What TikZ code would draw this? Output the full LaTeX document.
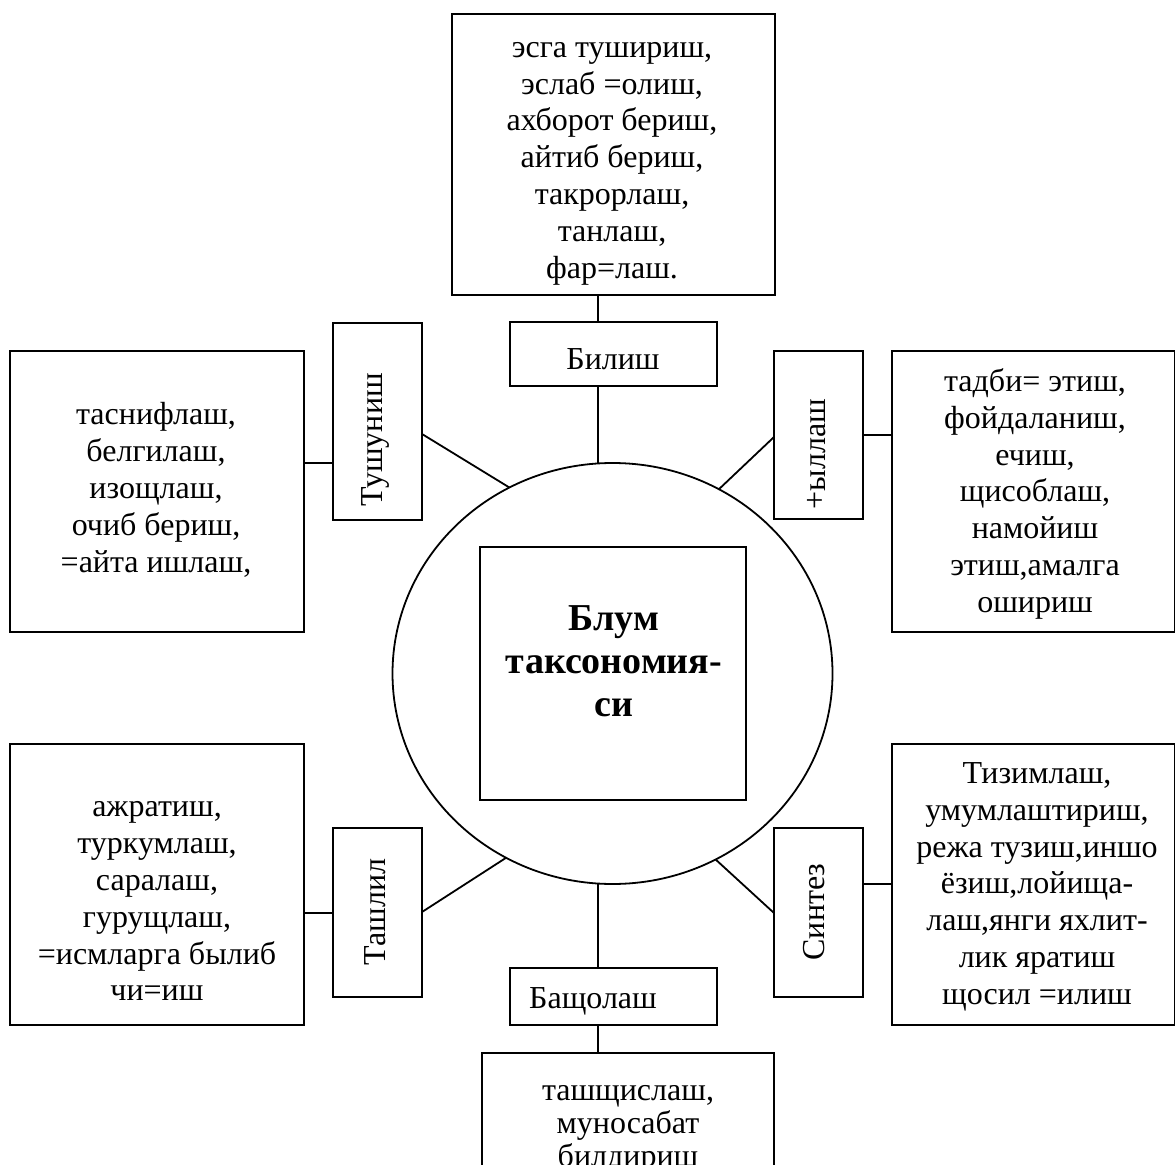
\documentclass[tikz,border=0pt]{standalone}
\usepackage{fontspec}
\setmainfont{Liberation Serif}
\usetikzlibrary{shapes.geometric}
\begin{document}
\begin{tikzpicture}[x=0.5pt,y=-0.5pt,
  box/.style={draw, line width=0.9pt, inner sep=0pt, outer sep=0pt},
  txt/.style={font=\fontsize{16}{18.4}\selectfont, inner sep=0pt},
  ln/.style={line width=0.9pt},
]
\clip (0,0) rectangle (1176,1165);
\fill[white] (0,0) rectangle (1176,1165);

% boxes
\node[box, minimum width=161.5pt, minimum height=140.5pt] (tb) at (613.5,154.5) {};
\node[box, minimum width=103.5pt, minimum height=32pt] (bil) at (613.5,354) {};
\node[box, minimum width=147pt, minimum height=140.5pt] (lt) at (157,491.5) {};
\node[box, minimum width=44.5pt, minimum height=98.5pt] (tush) at (377.5,421.5) {};
\node[box, minimum width=44.5pt, minimum height=84pt] (kul) at (818.5,435) {};
\node[box, minimum width=141.25pt, minimum height=140.5pt] (rt) at (1033.25,491.5) {};
\node[draw, ellipse, line width=0.9pt, inner sep=0pt, outer sep=0pt, minimum width=220pt, minimum height=210.5pt] (circ) at (612.5,673.5) {};
\node[box, minimum width=133pt, minimum height=126.5pt] (core) at (613,673.5) {};
\node[box, minimum width=147pt, minimum height=140.5pt] (lb) at (157,884.5) {};
\node[box, minimum width=44.5pt, minimum height=84.5pt] (tah) at (377.5,912.5) {};
\node[box, minimum width=44.5pt, minimum height=84.5pt] (sin) at (818.5,912.5) {};
\node[box, minimum width=141.25pt, minimum height=140.5pt] (rb) at (1033.25,884.5) {};
\node[box, minimum width=103.5pt, minimum height=28.5pt] (bas) at (613.5,996.5) {};
\node[box, minimum width=146pt, minimum height=73.5pt] (bb) at (628,1126.5) {};

% texts
\node[txt] (tbt) at (612,160.3) {\begin{tabular}{@{}c@{}}эсга тушириш,\\ эслаб =олиш,\\ ахборот бериш,\\ айтиб бериш,\\ такрорлаш,\\ танлаш,\\ фар=лаш.\end{tabular}};
\node[txt, anchor=base] (bilt) at (613,370) {Билиш};
\node[txt] (ltt) at (156,491.1) {\begin{tabular}{@{}c@{}}таснифлаш,\\ белгилаш,\\ изощлаш,\\ очиб бериш,\\ =айта ишлаш,\end{tabular}};
\node[txt, rotate=90] (tusht) at (375,440) {Тушуниш};
\node[txt, rotate=90] (kult) at (817,454) {+ыллаш};
\node[txt] (rtt) at (1035,494.6) {\begin{tabular}{@{}c@{}}тадби= этиш,\\ фойдаланиш,\\ ечиш,\\ щисоблаш,\\ намойиш\\ этиш,амалга\\ ошириш\end{tabular}};
\node[txt, font=\bfseries\fontsize{19}{21.5}\selectfont] (coret) at (614,665.1) {\begin{tabular}{@{}c@{}}Блум\\ таксономия-\\ си\end{tabular}};
\node[txt] (lbt) at (157,901.6) {\begin{tabular}{@{}c@{}}ажратиш,\\ туркумлаш,\\ саралаш,\\ гурущлаш,\\ =исмларга былиб\\ чи=иш\end{tabular}};
\node[txt, rotate=90] (taht) at (375,912) {Ташлил};
\node[txt, rotate=90] (sint) at (814,912) {Синтез};
\node[txt] (rbt) at (1037,886.6) {\begin{tabular}{@{}c@{}}Тизимлаш,\\ умумлаштириш,\\ режа тузиш,иншо\\ ёзиш,лойища-\\ лаш,янги яхлит-\\ лик яратиш\\ щосил =илиш\end{tabular}};
\node[txt, anchor=base] (bast) at (593,1008) {Бащолаш};
\node[txt, font=\fontsize{16}{16.5}\selectfont] (bbt) at (628,1126.4) {\begin{tabular}{@{}c@{}}ташщислаш,\\ муносабат\\ билдириш\end{tabular}};

% connectors
\coordinate (vx) at (598,0);
\draw[ln] (tb.south -| vx) -- (bil.north -| vx);
\draw[ln] (bil.south -| vx) -- (circ.north -| vx);
\draw[ln] (circ.south -| vx) -- (bas.north -| vx);
\draw[ln] (bas.south -| vx) -- (bb.north -| vx);

\coordinate (hA) at (0,463);
\draw[ln] (lt.east |- hA) -- (tush.west |- hA);
\coordinate (hB) at (0,435);
\draw[ln] (kul.east |- hB) -- (rt.west |- hB);
\coordinate (hC) at (0,913);
\draw[ln] (lb.east |- hC) -- (tah.west |- hC);
\coordinate (hD) at (0,884);
\draw[ln] (sin.east |- hD) -- (rb.west |- hD);

\coordinate (dA) at (0,434);
\draw[ln] (tush.east |- dA) -- (circ.119.5);
\coordinate (dB) at (0,437);
\draw[ln] (kul.west |- dB) -- (circ.60.5);
\coordinate (dC) at (0,912);
\draw[ln] (tah.east |- dC) -- (circ.240.5);
\coordinate (dD) at (0,913);
\draw[ln] (sin.west |- dD) -- (circ.299.5);
\end{tikzpicture}
\end{document}
